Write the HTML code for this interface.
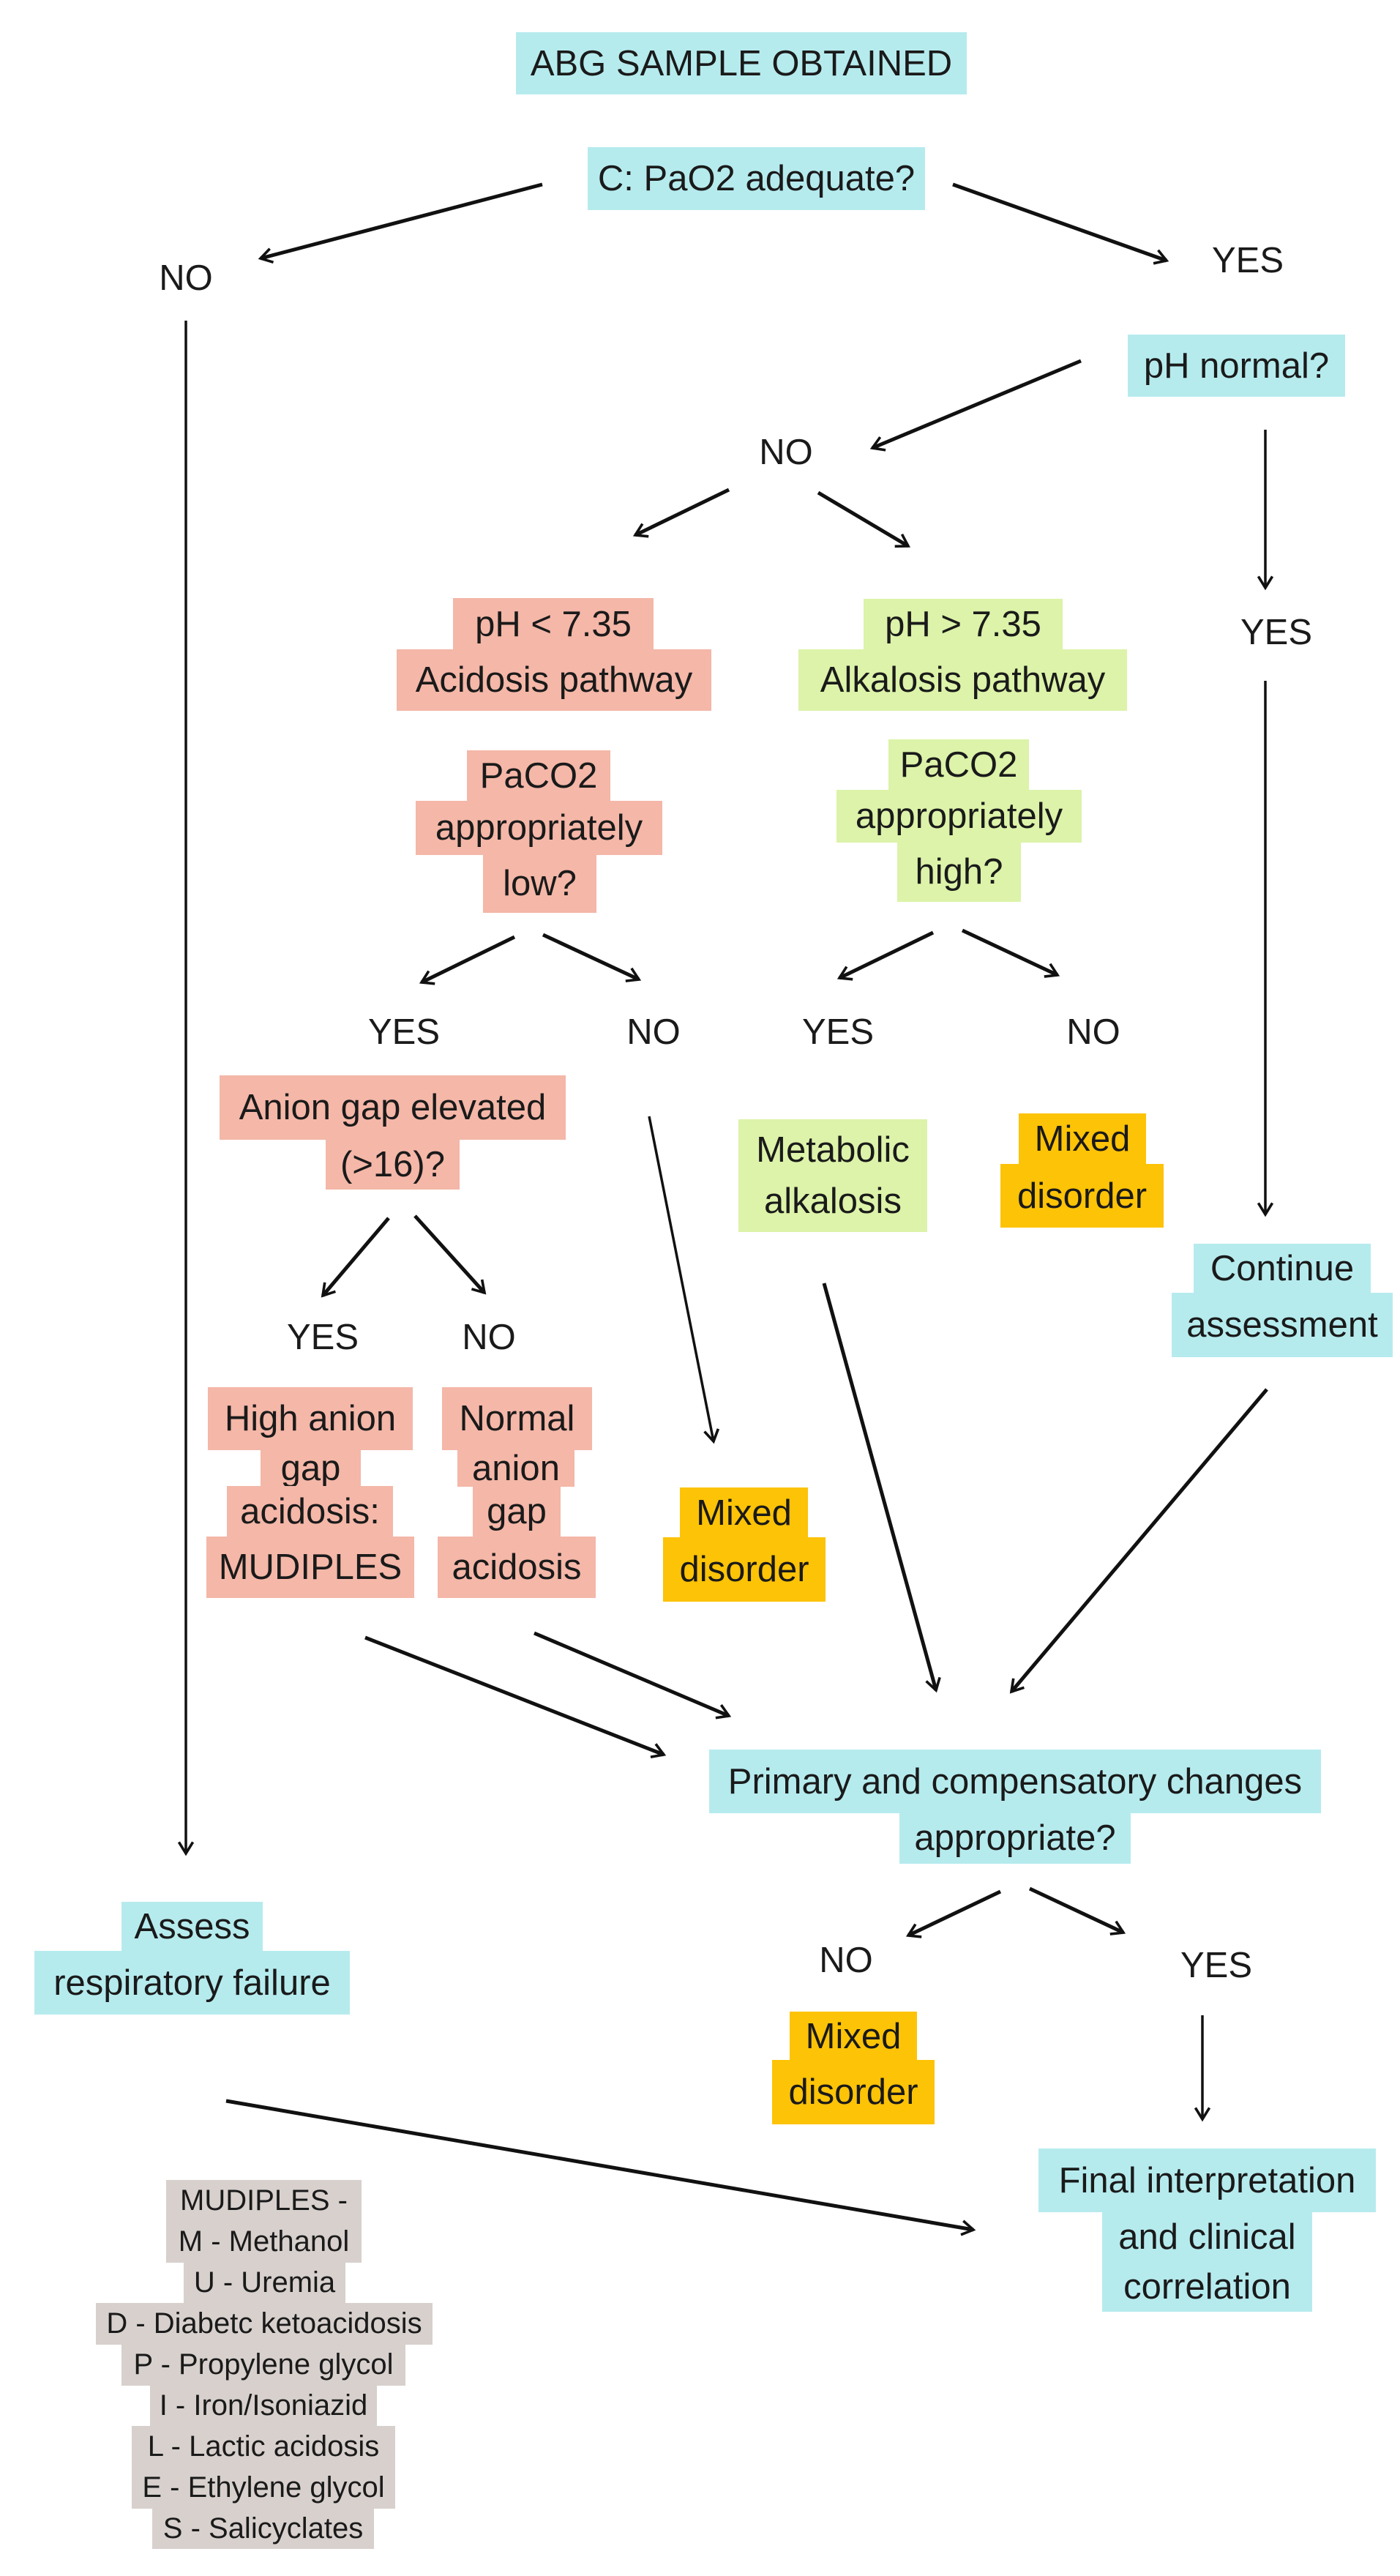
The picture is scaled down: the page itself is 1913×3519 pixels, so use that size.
<!DOCTYPE html>
<html><head><meta charset="utf-8"><style>
html,body{margin:0;padding:0;background:#fff;}
body{width:1913px;height:3519px;position:relative;overflow:hidden;font-family:"Liberation Sans",sans-serif;color:#1a1a1a;}
.r{position:absolute;display:flex;align-items:center;justify-content:center;white-space:nowrap;font-size:49px;}
.c{background:#b6ebee;}.s{background:#f4b7a8;}.g{background:#dcf3a9;}.o{background:#fdc307;}.y{background:#d7d0cd;font-size:40px;}
.t{position:absolute;font-size:49px;transform:translate(-50%,-50%);white-space:nowrap;}
svg{position:absolute;left:0;top:0;}
</style></head><body>
<svg width="1913" height="3519">
<defs>
<marker id="b" viewBox="0 0 20 20" markerWidth="24" markerHeight="24" refX="17" refY="10" orient="auto" markerUnits="userSpaceOnUse"><path d="M4,2 L17,10 L4,18" fill="none" stroke="#111" stroke-width="3"/></marker></defs>
<g stroke="#111" stroke-width="5" fill="none" marker-end="url(#b)">
<line x1="741" y1="252" x2="356" y2="353"/>
<line x1="1302" y1="252" x2="1594" y2="356"/>
<line x1="1477" y1="493" x2="1192" y2="612"/>
<line x1="996" y1="669" x2="868" y2="731"/>
<line x1="1118" y1="673" x2="1241" y2="746"/>
<line x1="703" y1="1280" x2="576" y2="1342"/>
<line x1="742" y1="1277" x2="873" y2="1338"/>
<line x1="1275" y1="1274" x2="1147" y2="1336"/>
<line x1="1315" y1="1271" x2="1445" y2="1332"/>
<line x1="531" y1="1664" x2="441" y2="1770"/>
<line x1="567" y1="1661" x2="662" y2="1766"/>
<line x1="1126" y1="1753" x2="1279" y2="2309"/>
<line x1="1731" y1="1898" x2="1382" y2="2311"/>
<line x1="499" y1="2237" x2="907" y2="2397"/>
<line x1="730" y1="2231" x2="996" y2="2344"/>
<line x1="1367" y1="2584" x2="1241" y2="2644"/>
<line x1="1407" y1="2580" x2="1535" y2="2640"/>
<line x1="309" y1="2870" x2="1330" y2="3046"/>
</g>
<g stroke="#111" stroke-width="3.5" fill="none" marker-end="url(#b)">
<line x1="254" y1="438" x2="254" y2="2532"/>
<line x1="1729" y1="587" x2="1729" y2="803"/>
<line x1="1729" y1="930" x2="1729" y2="1659"/>
<line x1="887" y1="1525" x2="975" y2="1969"/>
<line x1="1643" y1="2753" x2="1643" y2="2895"/>
</g>
</svg>

<div class="r c" style="left:705px;top:44px;width:616px;height:85px">ABG SAMPLE OBTAINED</div>
<div class="r c" style="left:803px;top:201px;width:461px;height:86px">C: PaO2 adequate?</div>
<div class="t" style="left:254px;top:380px">NO</div>
<div class="t" style="left:1705px;top:356px">YES</div>
<div class="r c" style="left:1541px;top:457px;width:297px;height:85px">pH normal?</div>
<div class="t" style="left:1074px;top:618px">NO</div>
<div class="t" style="left:1744px;top:864px">YES</div>

<div class="r s" style="left:619px;top:817px;width:274px;height:71px">pH &lt; 7.35</div>
<div class="r s" style="left:542px;top:887px;width:430px;height:84px">Acidosis pathway</div>
<div class="r g" style="left:1180px;top:818px;width:272px;height:70px">pH &gt; 7.35</div>
<div class="r g" style="left:1091px;top:887px;width:449px;height:84px">Alkalosis pathway</div>

<div class="r s" style="left:638px;top:1025px;width:196px;height:70px">PaCO2</div>
<div class="r s" style="left:568px;top:1094px;width:337px;height:74px">appropriately</div>
<div class="r s" style="left:660px;top:1167px;width:155px;height:80px">low?</div>
<div class="r g" style="left:1214px;top:1010px;width:192px;height:70px">PaCO2</div>
<div class="r g" style="left:1143px;top:1079px;width:335px;height:72px">appropriately</div>
<div class="r g" style="left:1226px;top:1150px;width:169px;height:82px">high?</div>

<div class="t" style="left:552px;top:1410px">YES</div>
<div class="t" style="left:893px;top:1410px">NO</div>
<div class="t" style="left:1145px;top:1410px">YES</div>
<div class="t" style="left:1494px;top:1410px">NO</div>

<div class="r s" style="left:300px;top:1469px;width:473px;height:88px">Anion gap elevated</div>
<div class="r s" style="left:445px;top:1556px;width:183px;height:69px">(&gt;16)?</div>
<div class="r g" style="left:1009px;top:1529px;width:258px;height:154px;white-space:normal;text-align:center;line-height:70px">Metabolic<br>alkalosis</div>
<div class="r o" style="left:1392px;top:1521px;width:174px;height:70px">Mixed</div>
<div class="r o" style="left:1367px;top:1590px;width:223px;height:87px">disorder</div>
<div class="r c" style="left:1631px;top:1699px;width:242px;height:68px">Continue</div>
<div class="r c" style="left:1601px;top:1766px;width:302px;height:88px">assessment</div>

<div class="t" style="left:441px;top:1827px">YES</div>
<div class="t" style="left:668px;top:1827px">NO</div>

<div class="r s" style="left:284px;top:1895px;width:280px;height:86px">High anion</div>
<div class="r s" style="left:356px;top:1980px;width:137px;height:51px">gap</div>
<div class="r s" style="left:310px;top:2030px;width:227px;height:70px">acidosis:</div>
<div class="r s" style="left:282px;top:2099px;width:284px;height:84px">MUDIPLES</div>
<div class="r s" style="left:604px;top:1895px;width:205px;height:86px">Normal</div>
<div class="r s" style="left:625px;top:1980px;width:160px;height:51px">anion</div>
<div class="r s" style="left:646px;top:2030px;width:120px;height:70px">gap</div>
<div class="r s" style="left:598px;top:2099px;width:216px;height:84px">acidosis</div>
<div class="r o" style="left:929px;top:2032px;width:175px;height:69px">Mixed</div>
<div class="r o" style="left:906px;top:2100px;width:222px;height:88px">disorder</div>

<div class="r c" style="left:969px;top:2390px;width:836px;height:87px">Primary and compensatory changes</div>
<div class="r c" style="left:1229px;top:2476px;width:316px;height:70px">appropriate?</div>
<div class="t" style="left:1156px;top:2678px">NO</div>
<div class="t" style="left:1662px;top:2685px">YES</div>
<div class="r o" style="left:1079px;top:2748px;width:174px;height:67px">Mixed</div>
<div class="r o" style="left:1055px;top:2814px;width:222px;height:88px">disorder</div>

<div class="r c" style="left:166px;top:2598px;width:193px;height:68px">Assess</div>
<div class="r c" style="left:47px;top:2665px;width:431px;height:87px">respiratory failure</div>

<div class="r c" style="left:1419px;top:2935px;width:461px;height:87px">Final interpretation</div>
<div class="r c" style="left:1506px;top:3021px;width:287px;height:137px;white-space:normal;text-align:center;line-height:68px">and clinical<br>correlation</div>

<div class="r y" style="left:227px;top:2978px;width:267px;height:57px">MUDIPLES -</div>
<div class="r y" style="left:227px;top:3034px;width:267px;height:57px">M - Methanol</div>
<div class="r y" style="left:251px;top:3090px;width:221px;height:57px">U - Uremia</div>
<div class="r y" style="left:131px;top:3146px;width:460px;height:57px">D - Diabetc ketoacidosis</div>
<div class="r y" style="left:166px;top:3202px;width:388px;height:57px">P - Propylene glycol</div>
<div class="r y" style="left:205px;top:3258px;width:310px;height:57px">I - Iron/Isoniazid</div>
<div class="r y" style="left:180px;top:3314px;width:360px;height:57px">L - Lactic acidosis</div>
<div class="r y" style="left:180px;top:3370px;width:360px;height:57px">E - Ethylene glycol</div>
<div class="r y" style="left:208px;top:3426px;width:303px;height:56px">S - Salicyclates</div>
</body></html>
